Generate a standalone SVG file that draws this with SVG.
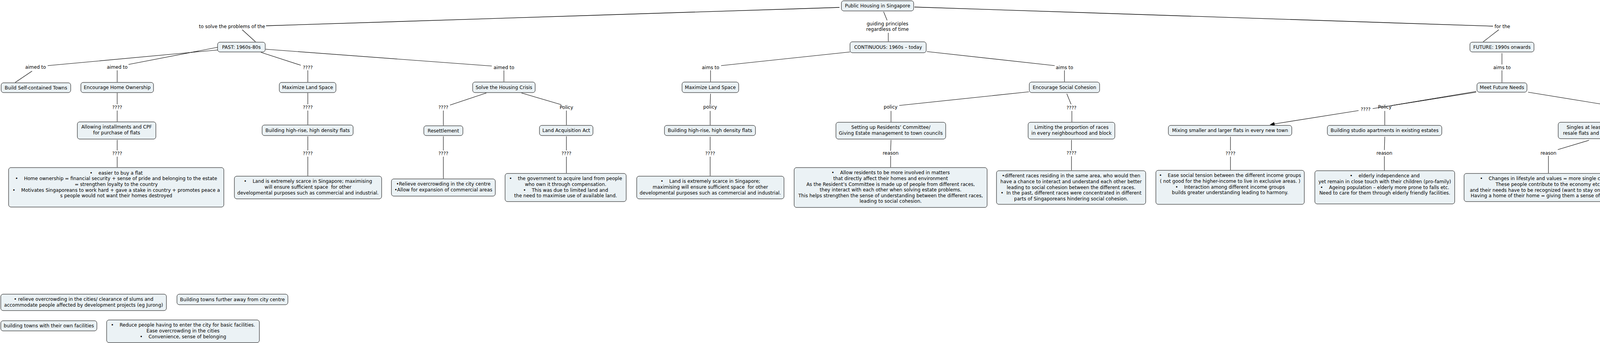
<svg xmlns="http://www.w3.org/2000/svg" width="4443" height="878" viewBox="0 0 4443 878">
<style>
.bg{fill:#ffffff}
.n rect{fill:#ebf2f5;stroke:#000;stroke-width:1}
.n text,.lb{font-family:"DejaVu Sans",Verdana,sans-serif;font-size:12px;fill:#000;text-anchor:middle}
.c line{stroke:#000;stroke-width:1.1}
.c line.main{stroke-width:1.4}
</style>
<defs>
<marker id="arr" markerUnits="userSpaceOnUse" markerWidth="12" markerHeight="10" refX="12" refY="5" orient="auto"><path d="M0,0 L12,5 L0,10 z" fill="#000"/></marker>
</defs>
<rect class="bg" x="0" y="0" width="4443" height="878"/>
<g class="c" id="connectors">
<line class="main" x1="2149" y1="19" x2="681" y2="66"/>
<line x1="620" y1="76" x2="654" y2="107"/>
<line x1="2262" y1="30" x2="2271" y2="52"/>
<line x1="2274" y1="84" x2="2274" y2="106"/>
<line class="main" x1="2341" y1="18" x2="3822" y2="67"/>
<line x1="3837" y1="76" x2="3797" y2="107"/>
<line x1="557" y1="128" x2="122" y2="168"/>
<line x1="82" y1="182" x2="39" y2="211"/>
<line x1="557" y1="121" x2="329" y2="165"/>
<line x1="300" y1="180" x2="300" y2="210"/>
<line x1="300" y1="238" x2="300" y2="267"/>
<line x1="300" y1="283" x2="300" y2="311"/>
<line x1="300" y1="358" x2="300" y2="385"/>
<line x1="300" y1="401" x2="300" y2="428"/>
<line x1="668" y1="134" x2="770" y2="167"/>
<line x1="788" y1="180" x2="788" y2="210"/>
<line x1="788" y1="238" x2="788" y2="267"/>
<line x1="788" y1="283" x2="788" y2="319"/>
<line x1="788" y1="349" x2="788" y2="385"/>
<line x1="788" y1="401" x2="788" y2="450"/>
<line x1="680" y1="126" x2="1259" y2="169"/>
<line x1="1290" y1="180" x2="1290" y2="209"/>
<line x1="1245" y1="238" x2="1152" y2="269"/>
<line x1="1135" y1="283" x2="1135" y2="321"/>
<line x1="1135" y1="349" x2="1135" y2="385"/>
<line x1="1135" y1="401" x2="1135" y2="457"/>
<line x1="1335" y1="238" x2="1437" y2="268"/>
<line x1="1450" y1="283" x2="1450" y2="320"/>
<line x1="1450" y1="349" x2="1450" y2="385"/>
<line x1="1450" y1="401" x2="1450" y2="443"/>
<line x1="2176" y1="133" x2="1846" y2="168"/>
<line x1="1819" y1="180" x2="1819" y2="209"/>
<line x1="1819" y1="240" x2="1818" y2="267"/>
<line x1="1818" y1="284" x2="1818" y2="320"/>
<line x1="1818" y1="350" x2="1818" y2="385"/>
<line x1="1818" y1="401" x2="1818" y2="450"/>
<line x1="2373" y1="132" x2="2700" y2="168"/>
<line x1="2725" y1="180" x2="2725" y2="209"/>
<line x1="2634" y1="235" x2="2302" y2="270"/>
<line x1="2281" y1="284" x2="2281" y2="312"/>
<line x1="2281" y1="358" x2="2280" y2="386"/>
<line x1="2280" y1="399" x2="2280" y2="428"/>
<line x1="2731" y1="240" x2="2742" y2="267"/>
<line x1="2744" y1="284" x2="2744" y2="312"/>
<line x1="2743" y1="358" x2="2743" y2="385"/>
<line x1="2743" y1="400" x2="2743" y2="436"/>
<line x1="3845" y1="136" x2="3845" y2="165"/>
<line x1="3845" y1="180" x2="3845" y2="211"/>
<line x1="3779" y1="234" x2="3563" y2="270"/>
<line x1="3779" y1="236" x2="3514" y2="278"/>
<line x1="3478" y1="283" x2="3251" y2="319" marker-end="url(#arr)"/>
<line x1="3150" y1="350" x2="3150" y2="385"/>
<line x1="3150" y1="401" x2="3150" y2="435"/>
<line x1="3545" y1="284" x2="3545" y2="320"/>
<line x1="3545" y1="350" x2="3544" y2="384"/>
<line x1="3544" y1="400" x2="3544" y2="436"/>
<line x1="3912" y1="236" x2="4121" y2="270"/>
<line x1="4143" y1="284" x2="4143" y2="312"/>
<line x1="4068" y1="359" x2="3988" y2="383"/>
<line x1="3964" y1="399" x2="3964" y2="443"/>
<line x1="4217" y1="358" x2="4302" y2="383"/>
<line x1="4322" y1="401" x2="4322" y2="465"/>
<line x1="4322" y1="496" x2="4322" y2="561"/>
<line x1="4322" y1="575" x2="4322" y2="597"/>
</g>
<g id="labels">
<text class="lb" x="594" y="72">to solve the problems of the</text>
<text class="lb" x="2272" y="65">guiding principles</text>
<text class="lb" x="2272" y="79">regardless of time</text>
<text class="lb" x="3846" y="72">for the</text>
<text class="lb" x="91" y="176">aimed to</text>
<text class="lb" x="300" y="176">aimed to</text>
<text class="lb" x="1290" y="177">aimed to</text>
<text class="lb" x="300" y="279">????</text>
<text class="lb" x="300" y="397">????</text>
<text class="lb" x="788" y="177">????</text>
<text class="lb" x="788" y="279">????</text>
<text class="lb" x="788" y="397">????</text>
<text class="lb" x="1135" y="279">????</text>
<text class="lb" x="1135" y="397">????</text>
<text class="lb" x="1450" y="279">Policy</text>
<text class="lb" x="1450" y="397">????</text>
<text class="lb" x="1819" y="177">aims to</text>
<text class="lb" x="1818" y="278">policy</text>
<text class="lb" x="1818" y="397">????</text>
<text class="lb" x="2725" y="177">aims to</text>
<text class="lb" x="2280" y="278">policy</text>
<text class="lb" x="2280" y="396">reason</text>
<text class="lb" x="2743" y="280">????</text>
<text class="lb" x="2743" y="396">????</text>
<text class="lb" x="3845" y="177">aims to</text>
<text class="lb" x="3496" y="284">????</text>
<text class="lb" x="3545" y="278">Policy</text>
<text class="lb" x="3150" y="397">????</text>
<text class="lb" x="3544" y="396">reason</text>
<text class="lb" x="4143" y="278">Policy</text>
<text class="lb" x="3964" y="396">reason</text>
<text class="lb" x="4322" y="395">policy</text>
<text class="lb" x="4322" y="572">reason</text>
</g>
<g class="n" id="n-root"><rect x="2154" y="2" width="185" height="26" rx="6"/><text x="2246.5" y="19">Public Housing in Singapore</text></g>
<g class="n" id="n-past"><rect x="557" y="108" width="122" height="25" rx="6"/><text x="618" y="124.5">PAST: 1960s-80s</text></g>
<g class="n" id="n-cont"><rect x="2176" y="107" width="195" height="28" rx="6"/><text x="2273.5" y="125">CONTINUOUS: 1960s – today</text></g>
<g class="n" id="n-future"><rect x="3763" y="108" width="164" height="25" rx="6"/><text x="3845" y="124.5">FUTURE: 1990s onwards</text></g>
<g class="n" id="n-build"><rect x="3" y="212" width="178" height="25" rx="6"/><text x="92" y="228.5">Build Self-contained Towns</text></g>
<g class="n" id="n-eho"><rect x="207" y="211" width="186" height="26" rx="6"/><text x="300" y="228">Encourage Home Ownership</text></g>
<g class="n" id="n-allow"><rect x="198" y="312" width="201" height="44" rx="6"/><text x="298.5" y="329.3">Allowing installments and CPF<tspan x="298.5" dy="14.6">for purchase of flats</tspan></text></g>
<g class="n" id="n-box1"><rect x="22" y="429" width="551" height="101" rx="6"/><text x="297.5" y="446.7">•&#160;&#160;&#160;&#160;easier to buy a flat<tspan x="297.5" dy="14.6">•&#160;&#160;&#160;&#160;Home ownership = financial security + sense of pride and belonging to the estate</tspan><tspan x="297.5" dy="14.6">= strengthen loyalty to the country</tspan><tspan x="297.5" dy="14.6">•&#160;&#160;&#160;&#160;Motivates Singaporeans to work hard + gave a stake in country + promotes peace a</tspan><tspan x="297.5" dy="14.6">s people would not want their homes destroyed</tspan></text></g>
<g class="n" id="n-max1"><rect x="715" y="211" width="145" height="26" rx="6"/><text x="787.5" y="228">Maximize Land Space</text></g>
<g class="n" id="n-bh1"><rect x="671" y="320" width="233" height="27" rx="6"/><text x="787.5" y="337.5">Building high-rise, high density flats</text></g>
<g class="n" id="n-box2"><rect x="600" y="451" width="377" height="58" rx="6"/><text x="788.5" y="468.3">•&#160;&#160;&#160;&#160;Land is extremely scarce in Singapore; maximising<tspan x="788.5" dy="14.6">will ensure sufficient space&#160; for other</tspan><tspan x="788.5" dy="14.6">developmental purposes such as commercial and industrial.</tspan></text></g>
<g class="n" id="n-solve"><rect x="1210" y="210" width="160" height="27" rx="6"/><text x="1290" y="227.5">Solve the Housing Crisis</text></g>
<g class="n" id="n-reset"><rect x="1085" y="322" width="100" height="25" rx="6"/><text x="1135" y="338.5">Resettlement</text></g>
<g class="n" id="n-laa"><rect x="1381" y="321" width="137" height="26" rx="6"/><text x="1449.5" y="338">Land Acquisition Act</text></g>
<g class="n" id="n-box3"><rect x="1002" y="458" width="266" height="44" rx="6"/><text x="1135" y="475.3">•Relieve overcrowding in the city centre<tspan x="1135" dy="14.6">•Allow for expansion of commercial areas</tspan></text></g>
<g class="n" id="n-box4"><rect x="1293" y="444" width="310" height="72" rx="6"/><text x="1448" y="461.3">•&#160;&#160;&#160;&#160;the government to acquire land from people<tspan x="1448" dy="14.6">who own it through compensation.</tspan><tspan x="1448" dy="14.6">•&#160;&#160;&#160;&#160;This was due to limited land and</tspan><tspan x="1448" dy="14.6">the need to maximise use of available land.</tspan></text></g>
<g class="n" id="n-max2"><rect x="1746" y="210" width="145" height="27" rx="6"/><text x="1818.5" y="227.5">Maximize Land Space</text></g>
<g class="n" id="n-bh2"><rect x="1701" y="321" width="233" height="26" rx="6"/><text x="1817.5" y="338">Building high-rise, high density flats</text></g>
<g class="n" id="n-box5"><rect x="1630" y="451" width="377" height="58" rx="6"/><text x="1818.5" y="468.3">•&#160;&#160;&#160;&#160;Land is extremely scarce in Singapore;<tspan x="1818.5" dy="14.6">maximising will ensure sufficient space&#160; for other</tspan><tspan x="1818.5" dy="14.6">developmental purposes such as commercial and industrial.</tspan></text></g>
<g class="n" id="n-esc"><rect x="2635" y="210" width="180" height="27" rx="6"/><text x="2725" y="227.5">Encourage Social Cohesion</text></g>
<g class="n" id="n-setup"><rect x="2140" y="313" width="281" height="43" rx="6"/><text x="2280.5" y="330.3">Setting up Residents’ Committee/<tspan x="2280.5" dy="14.6">Giving Estate management to town councils</tspan></text></g>
<g class="n" id="n-limit"><rect x="2632" y="313" width="222" height="43" rx="6"/><text x="2743" y="330.3">Limiting the proportion of races<tspan x="2743" dy="14.6">in every neighbourhood and block</tspan></text></g>
<g class="n" id="n-box6"><rect x="2033" y="429" width="494" height="102" rx="6"/><text x="2280" y="446.3">•&#160;&#160;&#160;&#160;Allow residents to be more involved in matters<tspan x="2280" dy="14.6">that directly affect their homes and environment</tspan><tspan x="2280" dy="14.6">As the Resident’s Committee is made up of people from different races,</tspan><tspan x="2280" dy="14.6">they interact with each other when solving estate problems.</tspan><tspan x="2280" dy="14.6">This helps strengthen the sense of understanding between the different races,</tspan><tspan x="2280" dy="14.6">leading to social cohesion.</tspan></text></g>
<g class="n" id="n-box7"><rect x="2551" y="437" width="382" height="86" rx="6"/><text x="2742" y="454.3">•different races residing in the same area, who would then<tspan x="2742" dy="14.6">have a chance to interact and understand each other better</tspan><tspan x="2742" dy="14.6">leading to social cohesion between the different races.</tspan><tspan x="2742" dy="14.6">•&#160;&#160;In the past, different races were concentrated in different</tspan><tspan x="2742" dy="14.6">parts of Singaporeans hindering social cohesion.</tspan></text></g>
<g class="n" id="n-mix"><rect x="2991" y="321" width="316" height="26" rx="6"/><text x="3149" y="338">Mixing smaller and larger flats in every new town</text></g>
<g class="n" id="n-box8"><rect x="2959" y="436" width="380" height="87" rx="6"/><text x="3149" y="453.3">•&#160;&#160;&#160;&#160;Ease social tension between the different income groups<tspan x="3149" dy="14.6">( not good for the higher-income to live in exclusive areas. )</tspan><tspan x="3149" dy="14.6">•&#160;&#160;&#160;&#160;Interaction among different income groups</tspan><tspan x="3149" dy="14.6">builds greater understanding leading to harmony.</tspan></text></g>
<g class="n" id="n-studio"><rect x="3398" y="321" width="293" height="26" rx="6"/><text x="3544.5" y="338">Building studio apartments in existing estates</text></g>
<g class="n" id="n-box9"><rect x="3366" y="437" width="358" height="85" rx="6"/><text x="3545" y="454.3">•&#160;&#160;&#160;&#160;elderly independence and<tspan x="3545" dy="14.6">yet remain in close touch with their children (pro-family)</tspan><tspan x="3545" dy="14.6">•&#160;&#160;&#160;&#160;Ageing population – elderly more prone to falls etc.</tspan><tspan x="3545" dy="14.6">Need to care for them through elderly friendly facilities.</tspan></text></g>
<g class="n" id="n-mfn"><rect x="3781" y="212" width="128" height="24" rx="6"/><text x="3845" y="228">Meet Future Needs</text></g>
<g class="n" id="n-singles"><rect x="3989" y="313" width="306" height="42" rx="6"/><text x="4142" y="330.3">Singles at least 35 years are allowed to buy<tspan x="4142" dy="14.6">resale flats and could use a CPF Housing Grant</tspan></text></g>
<g class="n" id="n-box10"><rect x="3748" y="444" width="432" height="72" rx="6"/><text x="3964" y="461.3">•&#160;&#160;&#160;&#160;Changes in lifestyle and values = more single citizens.<tspan x="3964" dy="14.6">These people contribute to the economy etc.</tspan><tspan x="3964" dy="14.6">and their needs have to be recognized (want to stay on their own).</tspan><tspan x="3964" dy="14.6">Having a home of their home = giving them a sense of belonging.</tspan></text></g>
<g class="n" id="n-upg"><rect x="4207" y="466" width="229" height="27" rx="6"/><text x="4321.5" y="483.5">Upgrading facilities in older estates</text></g>
<g class="n" id="n-maintain"><rect x="4204" y="598" width="236" height="72" rx="6"/><text x="4322" y="615.3">Maintain standard of living; maintain<tspan x="4322" dy="14.6">standard of govt. housing;</tspan><tspan x="4322" dy="14.6">keep citizens satisfied;</tspan><tspan x="4322" dy="14.6">remain competitive</tspan></text></g>
<g class="n" id="n-relieve"><rect x="2" y="753" width="424" height="42" rx="6"/><text x="214" y="770.3">• relieve overcrowding in the cities/ clearance of slums and<tspan x="214" dy="14.6">accommodate people affected by development projects (eg Jurong)</tspan></text></g>
<g class="n" id="n-further"><rect x="453" y="753" width="284" height="27" rx="6"/><text x="595" y="770.5">Building towns further away from city centre</text></g>
<g class="n" id="n-ownfac"><rect x="2" y="821" width="246" height="26" rx="6"/><text x="125" y="838">building towns with their own facilities</text></g>
<g class="n" id="n-reduce"><rect x="273" y="819" width="391" height="58" rx="6"/><text x="468.5" y="836.3">•&#160;&#160;&#160;&#160;Reduce people having to enter the city for basic facilities.<tspan x="468.5" dy="14.6">Ease overcrowding in the cities</tspan><tspan x="468.5" dy="14.6">•&#160;&#160;&#160;&#160;Convenience, sense of belonging</tspan></text></g>
</svg>
